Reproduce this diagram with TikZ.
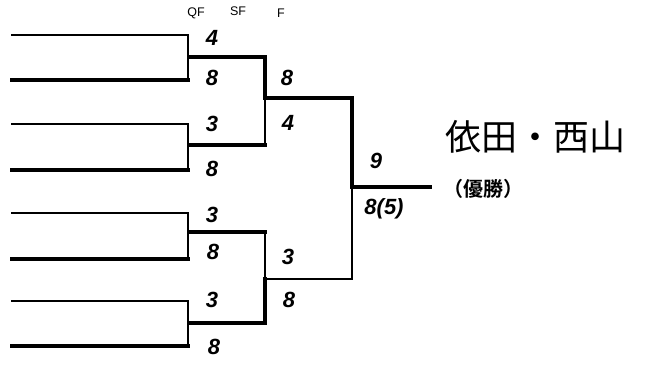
\documentclass[tikz,border=0pt]{standalone}
\usepackage{fontspec}
\setmainfont{Liberation Sans}
\newfontfamily\jpfont{Noto Sans CJK JP}
\newfontfamily\jpbold{Noto Sans CJK JP Bold}
\usetikzlibrary{positioning}

\begin{document}
\begin{tikzpicture}
    [x=1pt,y=-1pt,line cap=rect,
     lost/.style={line width=2pt},
     won/.style={line width=4pt},
     score/.style={font=\fontsize{22}{24}\selectfont\bfseries\itshape,inner sep=0pt},
     round/.style={font=\fontsize{12.5}{14}\selectfont,inner sep=0pt}]
    \useasboundingbox (0,0) rectangle (651,369);
    % entries
    \coordinate (e1) at (12,35);   \coordinate (q1) at (188,35);
    \coordinate (e2) at (12,80);   \coordinate (q2) at (188,80);
    \coordinate (e3) at (12,124);  \coordinate (q3) at (188,124);
    \coordinate (e4) at (12,170);  \coordinate (q4) at (188,170);
    \coordinate (e5) at (12,213);  \coordinate (q5) at (188,213);
    \coordinate (e6) at (12,259);  \coordinate (q6) at (188,259);
    \coordinate (e7) at (12,301);  \coordinate (q7) at (188,301);
    \coordinate (e8) at (12,346);  \coordinate (q8) at (188,346);
    % quarter finals
    \coordinate (a1) at (190,57);  \coordinate (s1) at (265,57);
    \coordinate (a2) at (190,145); \coordinate (s2) at (265,145);
    \coordinate (a3) at (190,232); \coordinate (s3) at (265,232);
    \coordinate (a4) at (190,323); \coordinate (s4) at (265,323);
    % semi finals
    \coordinate (b1) at (265,98);  \coordinate (f1) at (352,98);
    \coordinate (b2) at (265,279); \coordinate (f2) at (352,279);
    % final
    \coordinate (c1) at (352,187); \coordinate (w) at (430,187);

    \draw[lost] (e1) -- (q1) -- (q2);
    \draw[won] (e2) -- (q2);
    \draw[lost] (e3) -- (q3) -- (q4);
    \draw[won] (e4) -- (q4);
    \draw[lost] (e5) -- (q5) -- (q6);
    \draw[won] (e6) -- (q6);
    \draw[lost] (e7) -- (q7) -- (q8);
    \draw[won] (e8) -- (q8);
    \draw[won] (a1) -- (s1) -- (b1);
    \draw[lost] (b1) -- (s2);
    \draw[won] (a2) -- (s2);
    \draw[won] (a3) -- (s3);
    \draw[lost] (s3) -- (b2);
    \draw[won] (b2) -- (s4) -- (a4);
    \draw[won] (b1) -- (f1) -- (c1);
    \draw[lost] (c1) -- (f2) -- (b2);
    \draw[won] (c1) -- (w);

    % round labels
    \node[round] (qf) at (196,13) {QF};
    \node[round] (sf) at (238,11) {SF};
    \node[round] (fl) at (281,13) {F};

    % scores
    \node[score] (r1) at (212,38)  {4};
    \node[score] (r2) at (212,78)  {8};
    \node[score] (r3) at (212,124) {3};
    \node[score] (r4) at (212,169) {8};
    \node[score] (r5) at (212,215) {3};
    \node[score] (r6) at (213,252) {8};
    \node[score] (r7) at (212,300) {3};
    \node[score] (r8) at (214,347) {8};
    \node[score] (t1) at (287,78)  {8};
    \node[score] (t2) at (288,123) {4};
    \node[score] (t3) at (288,257) {3};
    \node[score] (t4) at (289,300) {8};
    \node[score] (u1) at (376,161) {9};
    \node[score] (u2) at (384,209) {8(5)};

    % winner
    \node[font=\jpfont\fontsize{36}{38}\selectfont,inner sep=0pt,anchor=west] (champ) at (445,137) {依田・西山};
    \node[font=\jpbold\fontsize{20}{22}\selectfont,inner sep=0pt,anchor=west] (yusho) at (443,189) {（優勝）};
\end{tikzpicture}
\end{document}
